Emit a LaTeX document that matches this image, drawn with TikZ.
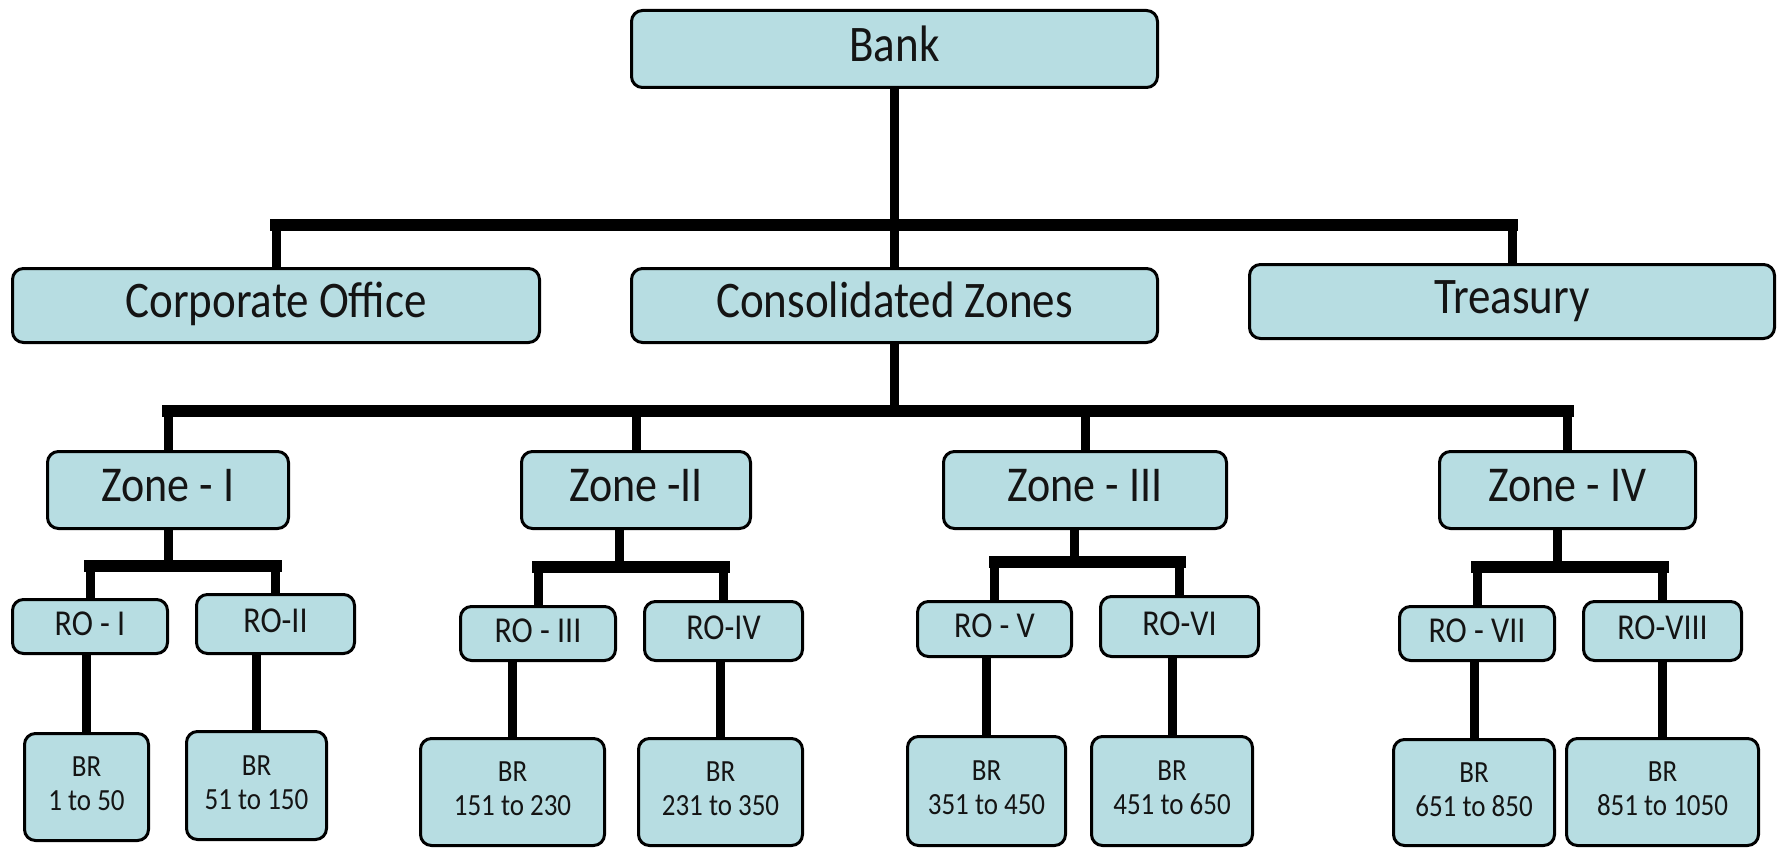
\documentclass[tikz,border=0pt]{standalone}
\usepackage{fontspec}
\setmainfont{Carlito}
\definecolor{boxfill}{HTML}{B7DDE2}
\definecolor{txtc}{HTML}{141414}
\tikzset{
  orgbox/.style={draw=black, line width=3pt, fill=boxfill, rounded corners=11pt, inner sep=0pt, text=txtc, align=center},
  fbig/.style={font=\fontsize{45}{54}\selectfont},
  fzone/.style={font=\fontsize{44}{52}\selectfont},
  fro/.style={font=\fontsize{32}{38}\selectfont},
  fbr/.style={font=\fontsize{27}{30}\selectfont},
  hbar/.style={line width=12pt, line cap=rect},
  vstem/.style={line width=9pt},
}
\newcommand{\mkbox}[7]{\node[orgbox,#6,minimum width=#4pt-3pt,minimum height=#5pt-3pt] (#1) at (#2,#3) {\scalebox{1}[1.14]{\begin{tabular}{@{}c@{}}#7\end{tabular}}};}
\begin{document}
\begin{tikzpicture}[x=1pt,y=-1pt]
\useasboundingbox[fill=white] (0,0) rectangle (1782,848);
\coordinate (ybar1) at (0,225);
\coordinate (ybar2) at (0,411);
\coordinate (ys1) at (0,566);
\coordinate (ys2) at (0,567);
\coordinate (ys3) at (0,562);
\coordinate (ys4) at (0,567);
% boxes
\mkbox{bank}{894.5}{49}{529}{80}{fbig}{Bank}
\mkbox{corp}{276}{305.5}{530}{77}{fbig}{Corporate Office}
\mkbox{cons}{894.5}{305.5}{529}{77}{fbig}{Consolidated Zones}
\mkbox{treas}{1512}{301.5}{528}{77}{fbig}{Treasury}
\mkbox{z1}{168}{490}{244}{80}{fzone}{Zone - I}
\mkbox{z2}{636}{490}{232}{80}{fzone}{Zone -II}
\mkbox{z3}{1085}{490}{286}{80}{fzone}{Zone - III}
\mkbox{z4}{1567.5}{490}{259}{80}{fzone}{Zone - IV}
\mkbox{ro1}{90}{626.5}{158}{57}{fro}{RO - I}
\mkbox{ro2}{275.5}{624}{161}{62}{fro}{RO-II}
\mkbox{ro3}{538}{633.5}{158}{57}{fro}{RO - III}
\mkbox{ro4}{723.5}{631}{161}{62}{fro}{RO-IV}
\mkbox{ro5}{994.5}{629}{157}{58}{fro}{RO - V}
\mkbox{ro6}{1179.5}{626.5}{161}{63}{fro}{RO-VI}
\mkbox{ro7}{1477}{633.5}{158}{57}{fro}{RO - VII}
\mkbox{ro8}{1662.5}{631}{161}{62}{fro}{RO-VIII}
\mkbox{br1}{86.5}{787}{127}{110}{fbr}{BR\\1 to 50}
\mkbox{br2}{256.5}{785.5}{143}{111}{fbr}{BR\\51 to 150}
\mkbox{br3}{512.5}{792}{187}{110}{fbr}{BR\\151 to 230}
\mkbox{br4}{720.5}{792}{167}{110}{fbr}{BR\\231 to 350}
\mkbox{br5}{986.5}{791}{161}{112}{fbr}{BR\\351 to 450}
\mkbox{br6}{1172}{791}{164}{112}{fbr}{BR\\451 to 650}
\mkbox{br7}{1474}{792.5}{164}{109}{fbr}{BR\\651 to 850}
\mkbox{br8}{1662.5}{792}{195}{110}{fbr}{BR\\851 to 1050}
% level 1
\draw[vstem] (bank.south) -- (cons.north);
\draw[hbar] (corp.north |- ybar1) -- (treas.north |- ybar1);
\draw[vstem] (corp.north |- ybar1) -- (corp.north);
\draw[vstem] (treas.north |- ybar1) -- (treas.north);
% level 2
\draw[vstem] (cons.south) -- (cons.south |- ybar2);
\draw[hbar] (z1.north |- ybar2) -- (z4.north |- ybar2);
\foreach \z in {z1,z2,z3,z4} \draw[vstem] (\z.north |- ybar2) -- (\z.north);
% level 3
\coordinate (s1) at (168,0);
\coordinate (s2) at (619,0);
\coordinate (s3) at (1074,0);
\coordinate (s4) at (1557,0);
\draw[vstem] (s1 |- z1.south) -- (s1 |- ys1);
\draw[hbar] (ro1.north |- ys1) -- (ro2.north |- ys1);
\draw[vstem] (ro1.north |- ys1) -- (ro1.north);
\draw[vstem] (ro2.north |- ys1) -- (ro2.north);
\draw[vstem] (s2 |- z2.south) -- (s2 |- ys2);
\draw[hbar] (ro3.north |- ys2) -- (ro4.north |- ys2);
\draw[vstem] (ro3.north |- ys2) -- (ro3.north);
\draw[vstem] (ro4.north |- ys2) -- (ro4.north);
\draw[vstem] (s3 |- z3.south) -- (s3 |- ys3);
\draw[hbar] (ro5.north |- ys3) -- (ro6.north |- ys3);
\draw[vstem] (ro5.north |- ys3) -- (ro5.north);
\draw[vstem] (ro6.north |- ys3) -- (ro6.north);
\draw[vstem] (s4 |- z4.south) -- (s4 |- ys4);
\draw[hbar] (ro7.north |- ys4) -- (ro8.north |- ys4);
\draw[vstem] (ro7.north |- ys4) -- (ro7.north);
\draw[vstem] (ro8.north |- ys4) -- (ro8.north);
% level 4
\draw[vstem] (br1.north |- ro1.south) -- (br1.north);
\draw[vstem] (br2.north |- ro2.south) -- (br2.north);
\draw[vstem] (br3.north |- ro3.south) -- (br3.north);
\draw[vstem] (br4.north |- ro4.south) -- (br4.north);
\draw[vstem] (br5.north |- ro5.south) -- (br5.north);
\draw[vstem] (br6.north |- ro6.south) -- (br6.north);
\draw[vstem] (br7.north |- ro7.south) -- (br7.north);
\draw[vstem] (br8.north |- ro8.south) -- (br8.north);
\end{tikzpicture}
\end{document}
